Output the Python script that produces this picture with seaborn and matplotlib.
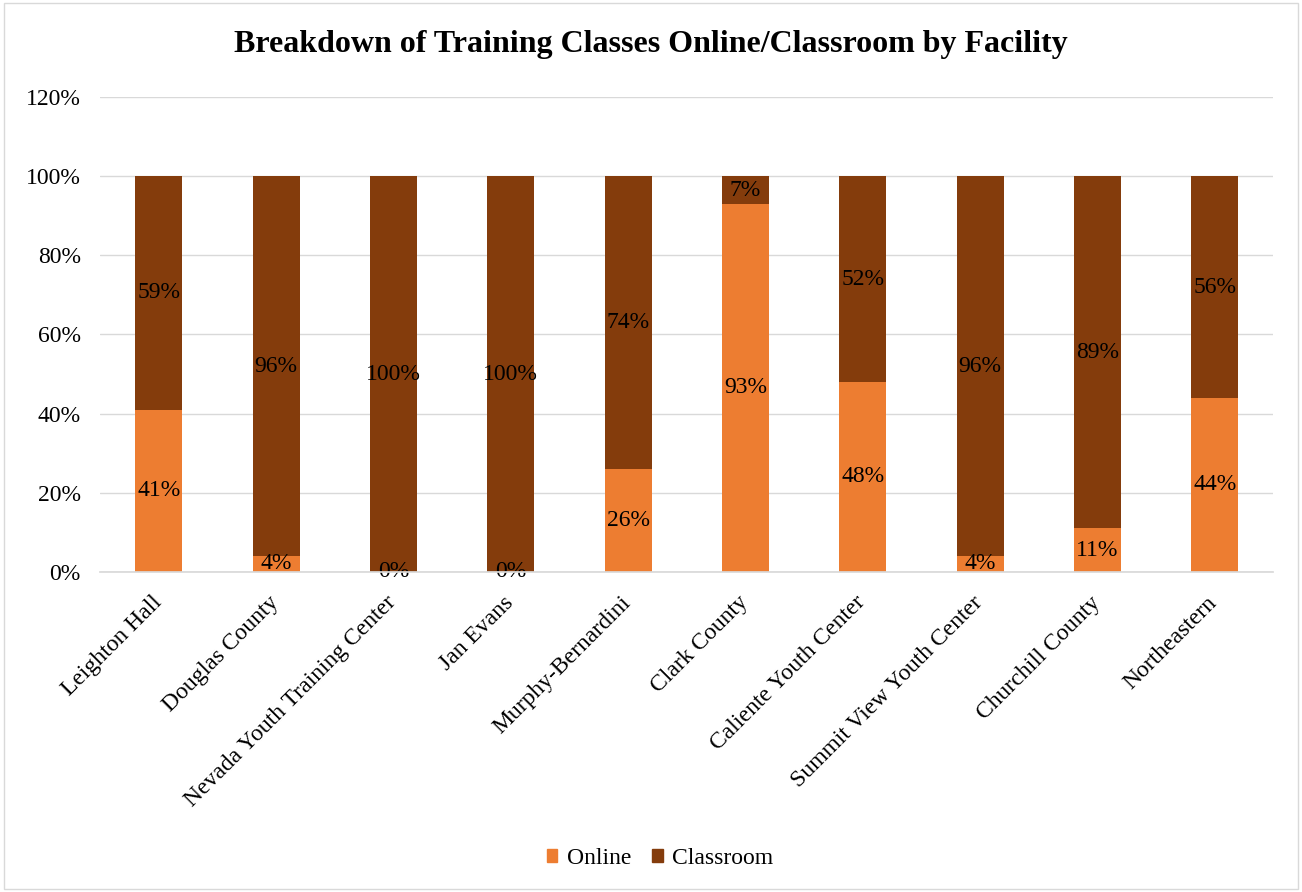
import pandas as pd
import numpy as np
import matplotlib
matplotlib.use("Agg")
import matplotlib.pyplot as plt
import seaborn as sns
from matplotlib.patches import Patch, Rectangle
from matplotlib.transforms import ScaledTranslation

# Data
facilities = ["Leighton Hall", "Douglas County", "Nevada Youth Training Center", "Jan Evans",
              "Murphy-Bernardini", "Clark County", "Caliente Youth Center",
              "Summit View Youth Center", "Churchill County", "Northeastern"]
online = [41, 4, 0, 0, 26, 93, 48, 4, 11, 44]
classroom = [59, 96, 100, 100, 74, 7, 52, 96, 89, 56]

df = pd.DataFrame({"facility": facilities, "online": online, "classroom": classroom})
df["total"] = df["online"] + df["classroom"]

sns.set_theme(style="white")
plt.rcParams["font.family"] = ["Liberation Serif", "DejaVu Serif"]
plt.rcParams["text.color"] = "black"
plt.rcParams["xtick.color"] = "black"
plt.rcParams["ytick.color"] = "black"

c_online = "#ED7D31"
c_class = "#843C0C"
fs = 17

fig = plt.figure(figsize=(13.02, 8.92), dpi=100)
ax = fig.add_axes([0.077, 0.359, 0.901, 0.532])

# stacked bars: full height in dark, online drawn over it
sns.barplot(data=df, x="facility", y="total", color=c_class, width=0.4,
            saturation=1, linewidth=0, ax=ax, zorder=3)
sns.barplot(data=df, x="facility", y="online", color=c_online, width=0.4,
            saturation=1, linewidth=0, ax=ax, zorder=4)

# data labels
for i, row in df.iterrows():
    ax.text(i, row["online"] / 2, f"{row['online']}%", ha="center", va="center",
            fontsize=fs, color="black", zorder=5)
    ax.text(i, row["online"] + row["classroom"] / 2, f"{row['classroom']}%",
            ha="center", va="center", fontsize=fs, color="black", zorder=5)

ax.set_ylim(0, 120)
ax.set_xlim(-0.5, len(facilities) - 0.5)
ax.set_yticks(range(0, 121, 20))
ax.set_yticklabels([f"{v}%" for v in range(0, 121, 20)], fontsize=fs, color="black")
ax.yaxis.grid(True, color="#d9d9d9", linewidth=1)
ax.set_axisbelow(True)
ax.set_xlabel("")
ax.set_ylabel("")
ax.tick_params(axis="y", length=0, pad=14)
ax.tick_params(axis="x", length=0, pad=14)
ax.set_xticks(range(len(facilities)))
ax.set_xticklabels(facilities, rotation=45, ha="right", rotation_mode="anchor",
                   fontsize=fs, color="black")
shift = ScaledTranslation(-8 / 100, -1 / 100, fig.dpi_scale_trans)
for lab in ax.get_xticklabels():
    lab.set_transform(lab.get_transform() + shift)
for s in ["top", "right", "left"]:
    ax.spines[s].set_visible(False)
ax.spines["bottom"].set_color("#d9d9d9")
ax.spines["bottom"].set_zorder(6)

fig.suptitle("Breakdown of Training Classes Online/Classroom by Facility",
             fontsize=23, fontweight="bold", color="black", y=0.966)

handles = [Patch(color=c_online, label="Online"), Patch(color=c_class, label="Classroom")]
fig.legend(handles=handles, loc="center", bbox_to_anchor=(0.507, 0.038), ncol=2,
           frameon=False, fontsize=fs, handlelength=0.45, handleheight=0.45,
           handletextpad=0.4, columnspacing=0.9)

# light outer border
fig.patches.append(Rectangle((0.003, 0.003), 0.994, 0.994, transform=fig.transFigure,
                             fill=False, edgecolor="#d9d9d9", linewidth=1))

plt.savefig("out.png", dpi=100)
